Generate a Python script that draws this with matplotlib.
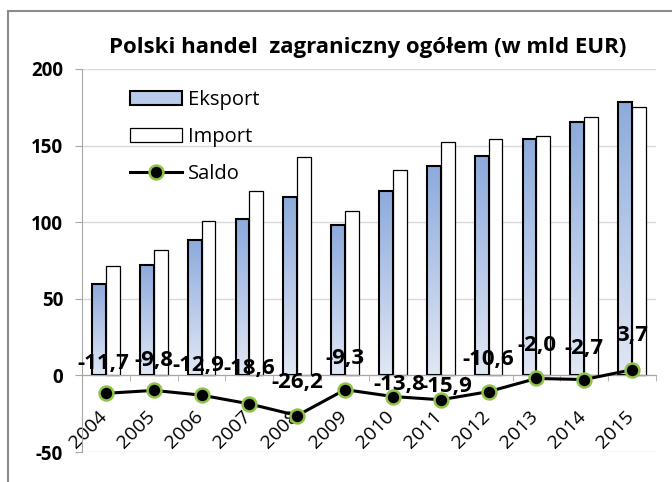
import numpy as np
import matplotlib
matplotlib.use("Agg")
import matplotlib.pyplot as plt
from matplotlib.lines import Line2D
from matplotlib.patches import Patch
from matplotlib.colors import LinearSegmentedColormap
from matplotlib.transforms import ScaledTranslation

# ── Data (mld EUR) ────────────────────────────────────────────────────────────
years = ["2004", "2005", "2006", "2007", "2008", "2009",
         "2010", "2011", "2012", "2013", "2014", "2015"]
eksport = [59.7, 71.9, 88.2, 101.8, 116.2, 98.0, 120.4, 136.7, 143.5, 154.3, 165.7, 178.6]
imports = [71.4, 81.7, 101.1, 120.4, 142.4, 107.3, 134.2, 152.6, 154.1, 156.3, 168.4, 174.9]
saldo = [-11.7, -9.8, -12.9, -18.6, -26.2, -9.3, -13.8, -15.9, -10.6, -2.0, -2.7, 3.7]
y_ticks = [-50, 0, 50, 100, 150, 200]

# label offsets above the Saldo markers (pixels)
label_dx = [-3, 0, -3, 0, 0, 0, 6, 6, 0, 0, 0, 0]
label_dy = [30, 30, 30, 35, 33, 31, 12, 13, 32, 33, 31, 34]

# ── Style ─────────────────────────────────────────────────────────────────────
FONT = "Open Sans"
AXIS_GREY = "#a6a6a6"
GRID_GREY = "#d9d9d9"
GREEN = "#8fc24a"
plt.rcParams["font.family"] = [FONT, "DejaVu Sans"]
plt.rcParams["axes.unicode_minus"] = False

fig = plt.figure(figsize=(6.72, 4.82), dpi=100)
ax = fig.add_axes([82 / 672, 1 - 452 / 482, (656 - 82) / 672, (452 - 69) / 482])

x = np.arange(len(years))
w = 0.29

bars_e = ax.bar(x - w / 2, eksport, w, facecolor="none", edgecolor="black",
                linewidth=1.5, zorder=3)
ax.bar(x + w / 2, imports, w, facecolor="white", edgecolor="black",
       linewidth=0.9, zorder=3)

# vertical gradient inside the export bars
cmap = LinearSegmentedColormap.from_list("eks", ["#e1e8f5", "#8caadc"])
grad = np.linspace(0, 1, 256).reshape(-1, 1)
for b in bars_e:
    x0, h = b.get_x(), b.get_height()
    ax.imshow(grad, cmap=cmap, origin="lower", aspect="auto",
              extent=(x0, x0 + b.get_width(), 0, h), zorder=2,
              interpolation="bilinear")

ax.plot(x, saldo, color="black", linewidth=2.2, marker="o", markersize=10,
        markerfacecolor="black", markeredgecolor=GREEN, markeredgewidth=1.8,
        zorder=5, clip_on=False)

for xi, v, dx, dy in zip(x, saldo, label_dx, label_dy):
    ax.annotate(f"{v:.1f}".replace(".", ","), (xi, v), xytext=(dx, dy),
                textcoords="offset pixels", ha="center", va="center",
                fontsize=16, fontweight="bold", zorder=6)

ax.set_xlim(-0.5, len(years) - 0.5)
ax.set_ylim(-50, 200)

# axes & grid
for s in ["top", "right"]:
    ax.spines[s].set_visible(False)
ax.spines["left"].set_color(AXIS_GREY)
ax.spines["bottom"].set_color(AXIS_GREY)
ax.spines["bottom"].set_position(("data", 0))
ax.spines["bottom"].set_zorder(4)
ax.set_yticks(y_ticks)
ax.yaxis.grid(True, color=GRID_GREY, linewidth=1.0)
ax.set_axisbelow(True)
ax.tick_params(axis="y", direction="out", length=5, color=AXIS_GREY,
               pad=8.5, labelsize=13.5)
for lab in ax.get_yticklabels():
    lab.set_fontweight("bold")

ax.set_xticks(x)
ax.set_xticks(np.arange(len(years) + 1) - 0.5, minor=True)
ax.set_xticklabels(years, rotation=45, ha="right", fontsize=14)
ax.tick_params(axis="x", which="major", length=0, pad=23)
ax.tick_params(axis="x", which="minor", direction="out", length=4.5,
               color=AXIS_GREY)
shift = ScaledTranslation(5 / 100, 0, fig.dpi_scale_trans)
for lab in ax.get_xticklabels():
    lab.set_transform(lab.get_transform() + shift)

# legend
handles = [
    Patch(facecolor="#b8cbea", edgecolor="black", linewidth=1.5, label="Eksport"),
    Patch(facecolor="white", edgecolor="black", linewidth=0.9, label="Import"),
    Line2D([], [], color="black", linewidth=2.2, marker="o", markersize=10,
           markerfacecolor="black", markeredgecolor=GREEN, markeredgewidth=1.8,
           label="Saldo"),
]
ax.legend(handles=handles, loc="upper left",
          bbox_to_anchor=((130 - 82) / 574, (452 - 90) / 383),
          frameon=False, fontsize=14.5, handlelength=2.6, handleheight=0.65,
          handletextpad=0.3, labelspacing=0.85, borderpad=0, borderaxespad=0)

fig.text(368 / 672, 1 - 47 / 482, "Polski handel  zagraniczny ogółem (w mld EUR)",
         ha="center", va="center", fontsize=16, fontweight="bold")

# outer chart frame
fig.add_artist(Line2D([8 / 672, 1], [1 - 11 / 482] * 2, transform=fig.transFigure,
                      color="#8c8c8c", linewidth=1.5))
fig.add_artist(Line2D([8 / 672] * 2, [0, 1 - 11 / 482], transform=fig.transFigure,
                      color="#8c8c8c", linewidth=1.5))

fig.savefig("out.png", dpi=100)
